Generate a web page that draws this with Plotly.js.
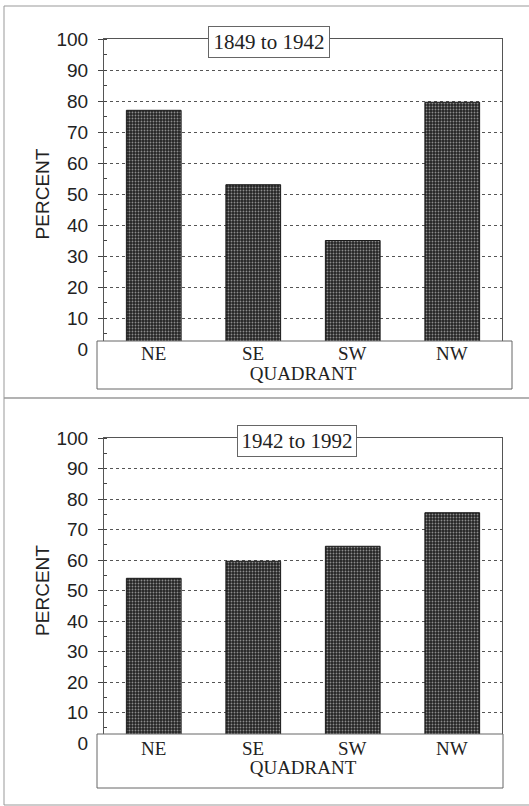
<!DOCTYPE html>
<html>
<head>
<meta charset="utf-8">
<script src="https://cdn.plot.ly/plotly-3.0.1.min.js"></script>
<style>
html,body{margin:0;padding:0;background:#fff;}
#chart{width:529px;height:806px;}
</style>
</head>
<body>
<div id="chart"></div>
<script>
// ---- data ----
var quadrants = ["NE", "SE", "SW", "NW"];
var pct1849to1942 = [77, 53, 35, 79.6];
var pct1942to1992 = [54, 59.6, 64.5, 75.5];
var panelTitles = ["1849 to 1942", "1942 to 1992"];
var yTickVals = [0, 10, 20, 30, 40, 50, 60, 70, 80, 90, 100];
var yTitle = "PERCENT";
var xTitle = "QUADRANT";

// ---- helpers ----
var W = 529, H = 806;
function px(x){ return x / W; }
function py(y){ return 1 - y / H; }

var SANS = "Liberation Sans, Arial, sans-serif";
var SERIF = "Liberation Serif, Times New Roman, serif";
var INK = "#222";

var barMarker = {
  color: "#2a2a2a",
  line: {color: "#1a1a1a", width: 1},
  pattern: {shape: ".", bgcolor: "#242424", fgcolor: "#8c8c8c", size: 3, solidity: 0.3}
};

var traces = [
  {type: "bar", x: quadrants, y: pct1849to1942, xaxis: "x", yaxis: "y", marker: barMarker, hoverinfo: "none"},
  {type: "bar", x: quadrants, y: pct1942to1992, xaxis: "x2", yaxis: "y2", marker: barMarker, hoverinfo: "none"}
];

function yax(domain){
  return {
    domain: domain, range: [0, 100], tickvals: yTickVals, ticks: "outside", ticklen: 5,
    tickcolor: "#444", showline: true, linecolor: "#555", linewidth: 1, mirror: true,
    showgrid: true, gridcolor: "#555", griddash: "dot", gridwidth: 1, zeroline: false,
    minor: {dtick: 5, ticks: "inside", ticklen: 3, tickcolor: "#444", showgrid: false},
    tickfont: {family: SANS, size: 19, color: INK}, ticklabelstandoff: 6,
    title: {text: yTitle, font: {family: SANS, size: 19, color: INK}, standoff: 1},
    fixedrange: true
  };
}
function xax(domain, anchor){
  return {
    domain: domain, anchor: anchor, showticklabels: false, ticks: "", showline: true,
    linecolor: "#555", mirror: true, showgrid: false, zeroline: false,
    title: {text: xTitle, font: {family: SERIF, size: 19, color: INK}, standoff: 17},
    fixedrange: true
  };
}

var xDom = [px(104), px(502)];

var shapes = [
  // panel frames
  {type: "rect", xref: "paper", yref: "paper", x0: px(4), x1: px(540), y0: py(398), y1: py(6), line: {color: "#999", width: 1}, layer: "below"},
  {type: "rect", xref: "paper", yref: "paper", x0: px(4), x1: px(540), y0: py(805), y1: py(398), line: {color: "#999", width: 1}, layer: "below"},
  // x-axis label boxes
  {type: "rect", xref: "paper", yref: "paper", x0: px(97), x1: px(512), y0: py(389), y1: py(341), fillcolor: "#fff", line: {color: "#666", width: 1}, layer: "above"},
  {type: "rect", xref: "paper", yref: "paper", x0: px(97), x1: px(503), y0: py(788), y1: py(734), fillcolor: "#fff", line: {color: "#666", width: 1}, layer: "above"}
];

var annotations = [];
quadrants.forEach(function(q){
  annotations.push({xref: "x", yref: "paper", x: q, y: py(353), text: q, showarrow: false, yanchor: "middle",
    font: {family: SERIF, size: 19, color: INK}});
  annotations.push({xref: "x2", yref: "paper", x: q, y: py(748), text: q, showarrow: false, yanchor: "middle",
    font: {family: SERIF, size: 19, color: INK}});
});
annotations.push({xref: "paper", yref: "paper", x: px(269), y: py(42.5), text: panelTitles[0], showarrow: false,
  xanchor: "center", yanchor: "middle", bgcolor: "#fff", bordercolor: "#666", borderwidth: 1, borderpad: 2,
  width: 116, height: 26, font: {family: SERIF, size: 21, color: INK}});
annotations.push({xref: "paper", yref: "paper", x: px(297), y: py(441), text: panelTitles[1], showarrow: false,
  xanchor: "center", yanchor: "middle", bgcolor: "#fff", bordercolor: "#666", borderwidth: 1, borderpad: 2,
  width: 114, height: 26, font: {family: SERIF, size: 21, color: INK}});

var layout = {
  width: W, height: H, margin: {l: 0, r: 0, t: 0, b: 0},
  paper_bgcolor: "#fff", plot_bgcolor: "#fff", showlegend: false, bargap: 0.45,
  xaxis: xax(xDom, "y"), yaxis: yax([py(349), py(39)]),
  xaxis2: xax(xDom, "y2"), yaxis2: yax([py(743), py(438)]),
  shapes: shapes, annotations: annotations
};
layout.yaxis2.anchor = "x2";
layout.yaxis.anchor = "x";

Plotly.newPlot("chart", traces, layout, {staticPlot: true});
</script>
</body>
</html>
